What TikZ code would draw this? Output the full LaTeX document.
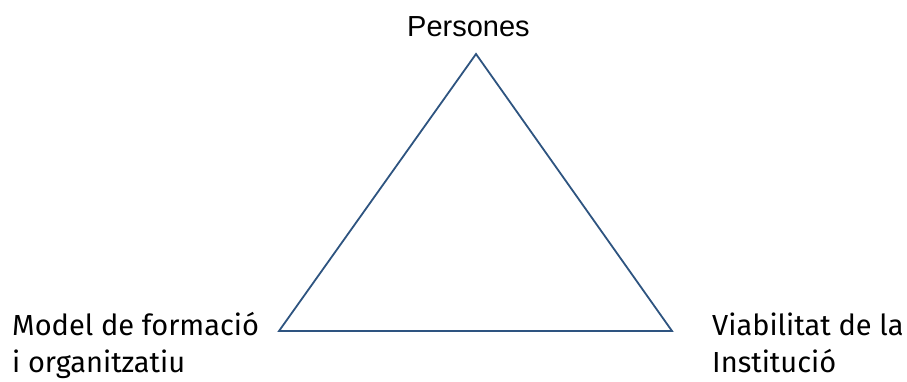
\documentclass[tikz,border=0pt]{standalone}
\usepackage{fontspec}
\setmainfont{Fira Sans}
\newfontfamily\arialf{Liberation Sans}
\definecolor{tri}{HTML}{2E5480}
\begin{document}
\begin{tikzpicture}[x=1pt,y=-1pt,
  lbl/.style={font=\fontsize{29}{37}\selectfont, inner sep=0pt, align=left},
  toplbl/.style={font=\arialf\fontsize{29}{34}\selectfont, inner sep=0pt}]
\useasboundingbox (0,0) rectangle (907,381);
\coordinate (top) at (476,54);
\coordinate (bl) at (279,331);
\coordinate (br) at (672,331);
\draw[tri, line width=1.8pt, line join=miter] (top) -- (bl) -- (br) -- cycle;
\node[toplbl, anchor=base] (pers) at (468.5,36) {Persones};
\node[lbl, anchor=base west] (left) at (12,372) {Model de formació\\i organitzatiu};
\node[lbl, anchor=base west] (right) at (712,372) {Viabilitat de la\\Institució};
\end{tikzpicture}
\end{document}
